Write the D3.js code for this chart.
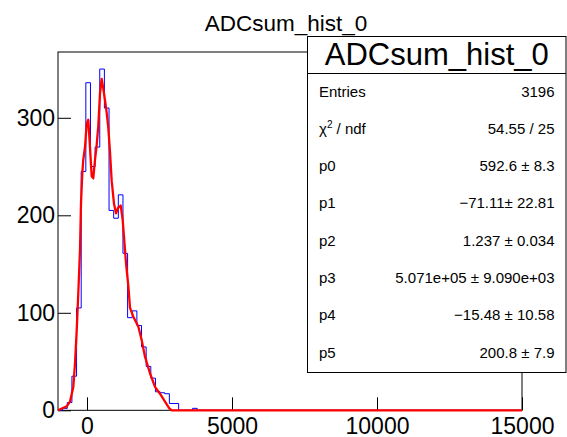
<!DOCTYPE html>
<html>
<head>
<meta charset="utf-8">
<script src="https://cdn.jsdelivr.net/npm/d3@7"></script>
<style>
  body { margin: 0; background: #fff; }
  svg { display: block; font-family: "Liberation Sans", Arial, sans-serif; }
</style>
</head>
<body>
<div id="chart"></div>
<script>
// histogram: 100 bins of 160 from -1000 to 15000 (only the filled part is listed, rest is empty)
const histRange = [-1000, 15000];
const binWidth = 160;
const binCounts = [0, 2, 8, 35, 105, 245, 336, 250, 270, 350, 310, 205, 197, 221, 161, 95, 102, 87, 65, 45, 33, 19, 18, 17, 7, 7, 0, 0, 0, 2];

// fit curve
const fitX = [-1000, -700, -586, -472, -414, -355, -300, -241, -207, -183, -162, -128, -69, -10, 45, 103, 162, 217, 276, 334, 390, 448, 507, 562, 621, 679, 734, 793, 852, 931, 1000, 1079, 1162, 1231, 1276, 1345, 1424, 1483, 1597, 1769, 1886, 2000, 2172, 2345, 2517, 2690, 2838, 2921, 15000];
const fitY = [0, 4, 9, 24, 48, 82, 120, 165, 212, 229, 243, 257, 270, 294, 298, 270, 240, 238, 257, 272, 292, 325, 340, 330, 318, 305, 290, 265, 235, 212, 202, 208, 210, 195, 178, 151, 128, 105, 96, 86, 72, 55, 38, 24, 17, 9, 2, 0, 0];

const xTicks = [0, 5000, 10000, 15000];
const yTicks = [0, 100, 200, 300];

const statTitle = "ADCsum_hist_0";
const statNames = ["Entries", "chi2", "p0", "p1", "p2", "p3", "p4", "p5"];
const statValues = ["3196", "54.55 / 25", "592.6 \u00b1 8.3", "\u221271.11\u00b1 22.81", "1.237 \u00b1 0.034", "5.071e+05 \u00b1 9.090e+03", "\u221215.48 \u00b1 10.58", "200.8 \u00b1 7.9"];

const width = 567, height = 437;
const frame = { left: 58, right: 522, top: 52, bottom: 410.3 };

const svg = d3.select("#chart").append("svg")
    .attr("width", width)
    .attr("height", height);

const x = d3.scaleLinear().domain(histRange).range([frame.left, frame.right]);
const y = d3.scaleLinear().domain([0, 367.5]).range([frame.bottom, frame.top]);

// title
svg.append("text")
    .attr("x", 286)
    .attr("y", 31)
    .attr("text-anchor", "middle")
    .attr("font-size", 22.5)
    .text("ADCsum_hist_0");

// frame
svg.append("rect")
    .attr("x", frame.left)
    .attr("y", frame.top)
    .attr("width", frame.right - frame.left)
    .attr("height", frame.bottom - frame.top)
    .attr("fill", "none")
    .attr("stroke", "#000")
    .attr("stroke-width", 1);

// axes, ticks point inwards
const xAxis = svg.append("g")
    .attr("transform", "translate(0," + frame.bottom + ")")
    .call(d3.axisBottom(x).tickValues(xTicks).tickSize(-13).tickPadding(7).tickFormat(d3.format("d")));
const yAxis = svg.append("g")
    .attr("transform", "translate(" + frame.left + ",0)")
    .call(d3.axisLeft(y).tickValues(yTicks).tickSize(-13).tickPadding(3).tickFormat(d3.format("d")));
[xAxis, yAxis].forEach(function (g) {
    g.select(".domain").remove();
    g.selectAll("line").attr("stroke", "#000");
    g.selectAll("text").attr("font-size", 23).attr("font-family", "Liberation Sans, Arial, sans-serif").attr("fill", "#000");
});

// histogram outline
const histPts = binCounts.map(function (c, i) { return [histRange[0] + i * binWidth, c]; });
histPts.push([histRange[0] + binCounts.length * binWidth, 0]);
histPts.push([histRange[1], 0]);
const stepLine = d3.line()
    .x(function (d) { return x(d[0]); })
    .y(function (d) { return y(d[1]); })
    .curve(d3.curveStepAfter);
svg.append("path")
    .datum(histPts)
    .attr("d", stepLine)
    .attr("fill", "none")
    .attr("stroke", "#0000ff")
    .attr("stroke-width", 1);

// fit
const fitLine = d3.line()
    .x(function (d, i) { return x(fitX[i]); })
    .y(function (d) { return y(d); });
svg.append("path")
    .datum(fitY)
    .attr("d", fitLine)
    .attr("fill", "none")
    .attr("stroke", "#ff0000")
    .attr("stroke-width", 2.3)
    .attr("stroke-linejoin", "round");

// stats box
const box = { left: 307.5, right: 566, top: 36.5, bottom: 372.5, sep: 73.5 };
const stats = svg.append("g");
stats.append("rect")
    .attr("x", box.left)
    .attr("y", box.top)
    .attr("width", box.right - box.left)
    .attr("height", box.bottom - box.top)
    .attr("fill", "#fff")
    .attr("stroke", "#000");
stats.append("line")
    .attr("x1", box.left).attr("x2", box.right)
    .attr("y1", box.sep).attr("y2", box.sep)
    .attr("stroke", "#000");
stats.append("text")
    .attr("x", (box.left + box.right) / 2)
    .attr("y", 64.5)
    .attr("text-anchor", "middle")
    .attr("font-size", 31)
    .text(statTitle);

const rowY = d3.scalePoint().domain(statNames).range([96.7, 357.5]);
statNames.forEach(function (name, i) {
    const t = stats.append("text")
        .attr("x", 319)
        .attr("y", rowY(name))
        .attr("font-size", 15);
    if (name === "chi2") {
        t.append("tspan").text("\u03c7");
        t.append("tspan").attr("font-size", 10).attr("dy", -6).text("2");
        t.append("tspan").attr("dy", 6).text(" / ndf");
    } else {
        t.text(name);
    }
    stats.append("text")
        .attr("x", 554.5)
        .attr("y", rowY(name))
        .attr("text-anchor", "end")
        .attr("font-size", 15)
        .text(statValues[i]);
});
</script>
</body>
</html>
